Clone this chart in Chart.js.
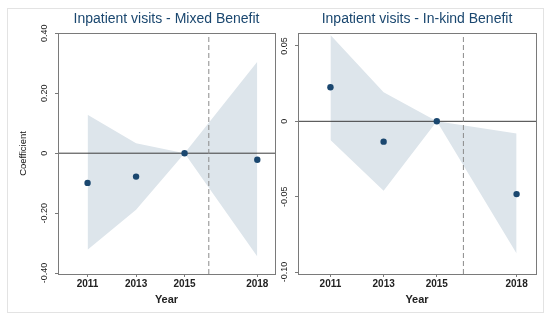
<!DOCTYPE html>
<html>
<head>
<meta charset="utf-8">
<script src="https://cdn.jsdelivr.net/npm/chart.js@4.4.1/dist/chart.umd.min.js"></script>
<style>
  html,body{margin:0;padding:0;background:#fff;}
  #wrap{position:relative;width:550px;height:322px;overflow:hidden;}
  #ramme{position:absolute;left:7px;top:8px;width:535px;height:303px;border:1px solid #e3e3e3;}
  canvas{position:absolute;top:0;}
</style>
</head>
<body>
<div id="wrap">
  <div id="ramme"></div>
  <canvas id="venstre" width="280" height="322" style="left:0"></canvas>
  <canvas id="hoyre" width="280" height="322" style="left:270px"></canvas>
</div>
<script>
// ── data lest av bildet ─────────────────────
const years = [2011, 2013, 2015, 2018];
const reformYear = 2016; // stiplet linje

// Mixed Benefit
const mixedCoef  = [-0.099, -0.078, 0, -0.022];
const mixedUpper = [0.128, 0.033, 0, 0.305];
const mixedLower = [-0.322, -0.189, 0, -0.345];
const mixedTicks = [-0.4, -0.2, 0, 0.2, 0.4];

// In-kind Benefit
const inkindCoef  = [0.0226, -0.0135, 0, -0.0483];
const inkindUpper = [0.0572, 0.0193, 0, -0.008];
const inkindLower = [-0.0124, -0.046, 0, -0.0877];
const inkindTicks = [-0.10, -0.05, 0, 0.05];

const xMin = 2009.78, xMax = 2018.73;

Chart.defaults.font.family = "'Liberation Sans', Arial, sans-serif";
Chart.defaults.animation = false;

const navy = "#1a476f";
const band = "rgb(221,229,235)";
const axisGray = "#7a7a7a";

// ramme rundt plottet (topp og høyre side)
const rammePlugin = {
  id: "ramme",
  afterDatasetsDraw(chart){
    const {ctx, chartArea:a} = chart;
    ctx.save();
    ctx.strokeStyle = axisGray;
    ctx.lineWidth = 1;
    ctx.strokeRect(Math.round(a.left)+0.5, Math.round(a.top)+0.5, Math.round(a.right-a.left), Math.round(a.bottom-a.top));
    ctx.restore();
  }
};

function pts(xs, ys){ return xs.map((x,i)=>({x:x, y:ys[i]})); }

function lagPanel(id, cfg){
  const yMin = cfg.yMin, yMax = cfg.yMax;
  return new Chart(document.getElementById(id), {
    type: "line",
    data: {
      datasets: [
        {data: pts(years, cfg.upper), borderWidth:0, pointRadius:0, fill:false, order:4},
        {data: pts(years, cfg.lower), borderWidth:0, pointRadius:0, fill:"-1", backgroundColor:band, order:3},
        {data: [{x:xMin,y:0},{x:xMax,y:0}], borderColor:"#3a3a3a", borderWidth:1, pointRadius:0, order:2},
        {data: [{x:reformYear,y:yMin},{x:reformYear,y:yMax}], borderColor:"#8a8a8a", borderWidth:1, borderDash:[5,3], pointRadius:0, order:1},
        {data: pts(years, cfg.coef), showLine:false, pointRadius:3.2, pointBackgroundColor:navy, pointBorderWidth:0, order:0}
      ]
    },
    options: {
      responsive: false,
      layout: {padding: cfg.padding},
      plugins: {
        legend: {display:false},
        tooltip: {enabled:false},
        title: {display:true, text:cfg.title, color:navy, fullSize:false,
                font:{size:14, weight:"normal"}, padding:{top:2, bottom:5.2}}
      },
      scales: {
        x: {
          type: "linear", min: xMin, max: xMax,
          afterBuildTicks: s => { s.ticks = years.map(v=>({value:v})); },
          afterFit: s => { s.height = 36; },
          ticks: {callback: v => String(v), autoSkip:false, maxRotation:0, padding:1, color:"#222", font:{size:10, weight:"bold"}},
          grid: {drawOnChartArea:false, tickLength:3, tickColor:axisGray},
          border: {color:axisGray, width:1},
          title: {display:true, text:"Year", color:"#222", font:{size:11, weight:"bold"}, padding:{top:0, bottom:3}}
        },
        y: {
          min: yMin, max: yMax,
          afterBuildTicks: s => { s.ticks = cfg.ticks.map(v=>({value:v})); },
          afterFit: s => { s.width = cfg.yWidth; },
          ticks: {callback: v => v===0 ? "0" : v.toFixed(2), minRotation:90, maxRotation:90,
                  crossAlign:"center", padding:0, color:"#222", font:{size:9}},
          grid: {drawOnChartArea:false, tickLength:3, tickColor:axisGray},
          border: {color:axisGray, width:1},
          title: {display:cfg.yTitle, text:"Coefficient", color:"#111", font:{size:9.5}, padding:{top:10}}
        }
      }
    },
    plugins: [rammePlugin]
  });
}

lagPanel("venstre", {
  title: "Inpatient visits - Mixed Benefit",
  coef: mixedCoef, upper: mixedUpper, lower: mixedLower, ticks: mixedTicks,
  yMin: -0.403, yMax: 0.401, yWidth: 50, yTitle: true,
  padding: {left:8, right:5, top:9, bottom:12}
});

lagPanel("hoyre", {
  title: "Inpatient visits - In-kind Benefit",
  coef: inkindCoef, upper: inkindUpper, lower: inkindLower, ticks: inkindTicks,
  yMin: -0.1013, yMax: 0.0586, yWidth: 26, yTitle: false,
  padding: {left:2, right:14, top:9, bottom:12}
});
</script>
</body>
</html>
